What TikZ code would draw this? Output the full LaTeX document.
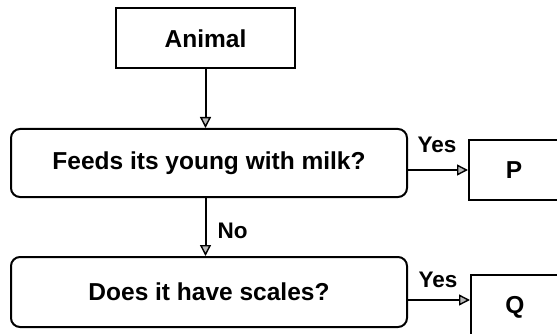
\documentclass[tikz,border=0pt]{standalone}
\usepackage{fontspec}
\setmainfont{Liberation Sans}
\usetikzlibrary{arrows.meta,calc}
\begin{document}
\begin{tikzpicture}[x=1pt,y=-1pt,
  box/.style={draw, line width=2pt, inner sep=0pt, font=\fontsize{24.5}{29}\bfseries\selectfont},
  rbox/.style={box, rounded corners=9pt},
  lbl/.style={inner sep=0pt, anchor=base, font=\fontsize{22.5}{27}\bfseries\selectfont},
  conn/.style={draw, line width=2pt, -{Triangle[length=11pt,width=11pt,line width=1.4pt,fill=gray!55]}}]
\useasboundingbox (0,0) rectangle (557,334);
\node[box, minimum width=179pt, minimum height=60pt] (animal) at (205.5,38.5) {Animal};
\node[rbox, minimum width=396pt, minimum height=68pt] (q1) at (209,163) {Feeds its young with milk?};
\node[rbox, minimum width=396pt, minimum height=70pt] (q2) at (209,292) {Does it have scales?};
\node[box, minimum width=90pt, minimum height=60pt] (p) at (514,170) {P};
\node[box, minimum width=88pt, minimum height=65pt] (q) at (515,307.5) {Q};
\draw[conn] (animal.south) -- (animal.south |- q1.north);
\draw[conn] (q1.south -| animal.south) -- (q2.north -| animal.south);
\draw[conn] (p.west -| q1.east) -- (p.west);
\coordinate (qin) at ([yshift=7.5pt]q.west);
\draw[conn] (qin -| q2.east) -- (qin);
\node[lbl] (yes1) at (437,153) {Yes};
\node[lbl] (yes2) at (438,287) {Yes};
\node[lbl] (no) at (232.5,238) {No};
\end{tikzpicture}
\end{document}
